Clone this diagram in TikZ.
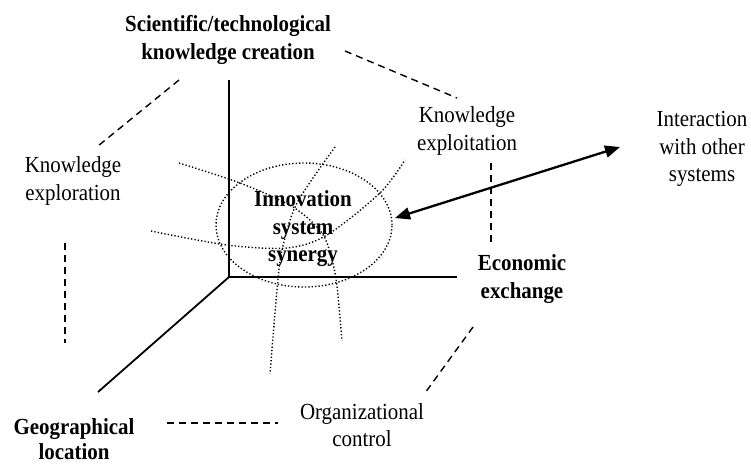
\documentclass[tikz,border=0pt]{standalone}
\usepackage{fontspec}
\setmainfont{Liberation Serif}[FakeStretch=0.91]
\usetikzlibrary{arrows.meta,shapes.geometric}
\begin{document}
\begin{tikzpicture}[x=1pt,y=-1pt,
  lbl/.style={align=center,inner sep=0pt,font=\fontsize{23}{27.5}\selectfont},
  blbl/.style={lbl,font=\fontsize{23}{27.5}\selectfont\bfseries},
  axis/.style={line width=1.8pt},
  dsh/.style={line width=1.4pt,dash pattern=on 7pt off 5pt},
  dots/.style={line width=1.4pt,dash pattern=on 1.3pt off 2.1pt},
  dbl/.style={line width=2.3pt,{Triangle[length=15pt,width=12pt]}-{Triangle[length=15pt,width=12pt]}}]
\useasboundingbox (0,0) rectangle (751,464);
\fill[white] (0,0) rectangle (751,464);
% labels
\node[blbl] (sci) at (228,40) {Scientific/technological\\knowledge creation};
\node[lbl] (kexpl) at (73,181) {Knowledge\\exploration};
\node[lbl] (kexploit) at (467,131) {Knowledge\\exploitation};
\node[lbl] (inter) at (702,149) {Interaction\\with other\\systems};
\node[blbl] (econ) at (522,279) {Economic\\exchange};
\node[lbl] (org) at (362,425) {Organizational\\control};
\node[blbl,font=\fontsize{23}{25}\selectfont\bfseries] (geo) at (74,439) {Geographical\\location};
% axes
\coordinate (O) at (229,277);
\coordinate (axT) at (229,80);
\coordinate (axR) at (457,277);
\coordinate (axD) at (98,392);
\draw[axis] (axT) -- (O) -- (axR);
\draw[axis] (O) -- (axD);
% dotted curves
\draw[dots] plot[smooth] coordinates {(179,163) (240,183) (293,207) (322,233) (332,260) (337,286) (342,341)};
\draw[dots] plot[smooth] coordinates {(151,231) (227,245) (287,248) (327,235) (380,193) (405,160)};
\draw[dots] plot[smooth] coordinates {(335,147) (297,203) (282,250) (277,290) (270,374)};
% ellipse
\node[draw,dots,ellipse,minimum width=176pt,minimum height=124pt,inner sep=0pt] (ell) at (304,225) {};
\node[blbl] (innov) at (303,229) {Innovation\\system\\synergy};
% dashed links
\coordinate (d1a) at (179,80);  \coordinate (d1b) at (98,146);
\coordinate (d2a) at (345,51);  \coordinate (d2b) at (457,98);
\coordinate (d3a) at (65,243);  \coordinate (d3b) at (65,343);
\coordinate (d4a) at (491,163); \coordinate (d4b) at (491,245);
\coordinate (d5a) at (473,327); \coordinate (d5b) at (425,393);
\coordinate (d6a) at (167,423); \coordinate (d6b) at (278,423);
\draw[dsh] (d1a) -- (d1b);
\draw[dsh] (d2a) -- (d2b);
\draw[dsh] (d3a) -- (d3b);
\draw[dsh] (d4a) -- (d4b);
\draw[dsh] (d5a) -- (d5b);
\draw[dsh] (d6a) -- (d6b);
% double arrow
\coordinate (arrL) at (395,218);
\coordinate (arrR) at (620,147);
\draw[dbl] (arrL) -- (arrR);
\end{tikzpicture}
\end{document}
